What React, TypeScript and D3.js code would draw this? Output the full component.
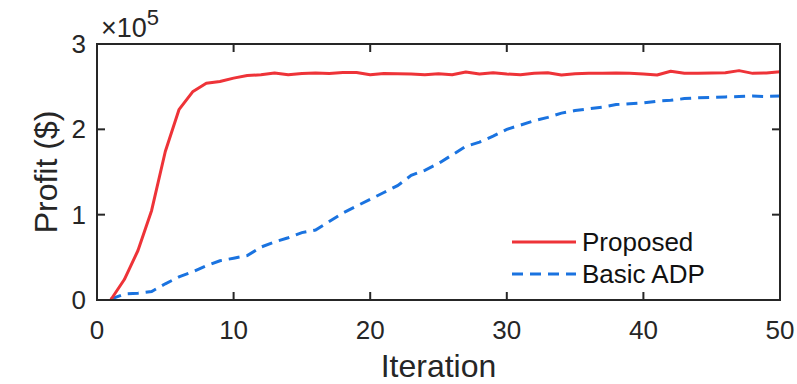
import React, { useEffect, useRef } from 'react';
import * as d3 from 'd3';

// iteration index 1..50
const iterations: number[] = d3.range(1, 51);

// profit values in units of 1e5 $
const proposed: number[] = [
  0.00, 0.24, 0.58, 1.05, 1.74, 2.23, 2.44, 2.54, 2.56, 2.60,
  2.63, 2.64, 2.66, 2.64, 2.655, 2.66, 2.655, 2.665, 2.665, 2.64,
  2.655, 2.65, 2.648, 2.64, 2.652, 2.64, 2.672, 2.648, 2.664, 2.648,
  2.64, 2.656, 2.664, 2.636, 2.652, 2.656, 2.656, 2.66, 2.656, 2.648,
  2.636, 2.68, 2.656, 2.656, 2.66, 2.664, 2.688, 2.656, 2.66, 2.675,
];

const basicADP: number[] = [
  0.01, 0.07, 0.08, 0.10, 0.19, 0.27, 0.33, 0.40, 0.46, 0.49,
  0.52, 0.62, 0.68, 0.73, 0.79, 0.82, 0.92, 1.02, 1.10, 1.18,
  1.26, 1.34, 1.46, 1.52, 1.60, 1.70, 1.80, 1.85, 1.92, 2.00,
  2.05, 2.10, 2.14, 2.19, 2.22, 2.24, 2.26, 2.29, 2.30, 2.31,
  2.33, 2.34, 2.36, 2.37, 2.375, 2.38, 2.385, 2.39, 2.385, 2.39,
];

const xTicks: number[] = [0, 10, 20, 30, 40, 50];
const yTicks: number[] = [0, 1, 2, 3];

const seriesNames: string[] = ['Proposed', 'Basic ADP'];

const App = () => {
  const ref = useRef<SVGSVGElement | null>(null);

  useEffect(() => {
    const svg = d3.select(ref.current);
    svg.selectAll('*').remove();

    const margin = { top: 44, right: 17, bottom: 84, left: 97 },
      width = 797 - margin.left - margin.right,
      height = 384 - margin.top - margin.bottom;

    const axisColor = '#262626';
    const font = '"Liberation Sans", Arial, Helvetica, sans-serif';
    const colors = ['#ee3338', '#1a73e0'];

    const g = svg.append('g')
      .attr('transform', 'translate(' + margin.left + ',' + margin.top + ')');

    const x = d3.scaleLinear().domain([0, 50]).range([0, width]);
    const y = d3.scaleLinear().domain([0, 3]).range([height, 0]);

    // lines
    const line = d3.line<number>()
      .x((d, i) => x(iterations[i]))
      .y(d => y(d));

    g.append('path')
      .datum(basicADP)
      .attr('fill', 'none')
      .attr('stroke', colors[1])
      .attr('stroke-width', 3)
      .attr('stroke-dasharray', '11,7')
      .attr('d', line);

    g.append('path')
      .datum(proposed)
      .attr('fill', 'none')
      .attr('stroke', colors[0])
      .attr('stroke-width', 3)
      .attr('stroke-linejoin', 'round')
      .attr('d', line);

    // box
    g.append('rect')
      .attr('x', 0)
      .attr('y', 0)
      .attr('width', width)
      .attr('height', height)
      .attr('fill', 'none')
      .attr('stroke', axisColor)
      .attr('stroke-width', 2);

    // ticks, pointing inward, on all four sides
    const tickLen = 8;
    xTicks.forEach(t => {
      g.append('line')
        .attr('x1', x(t)).attr('x2', x(t))
        .attr('y1', height).attr('y2', height - tickLen)
        .attr('stroke', axisColor).attr('stroke-width', 2);
      g.append('line')
        .attr('x1', x(t)).attr('x2', x(t))
        .attr('y1', 0).attr('y2', tickLen)
        .attr('stroke', axisColor).attr('stroke-width', 2);
      g.append('text')
        .attr('x', x(t))
        .attr('y', height + 39)
        .attr('text-anchor', 'middle')
        .attr('font-family', font)
        .attr('font-size', 26)
        .attr('fill', axisColor)
        .text(t);
    });

    yTicks.forEach(t => {
      g.append('line')
        .attr('x1', 0).attr('x2', tickLen)
        .attr('y1', y(t)).attr('y2', y(t))
        .attr('stroke', axisColor).attr('stroke-width', 2);
      g.append('line')
        .attr('x1', width).attr('x2', width - tickLen)
        .attr('y1', y(t)).attr('y2', y(t))
        .attr('stroke', axisColor).attr('stroke-width', 2);
      g.append('text')
        .attr('x', -11)
        .attr('y', y(t) + 9)
        .attr('text-anchor', 'end')
        .attr('font-family', font)
        .attr('font-size', 26)
        .attr('fill', axisColor)
        .text(t);
    });

    // exponent label
    const expo = g.append('text')
      .attr('x', 4)
      .attr('y', -7)
      .attr('font-family', font)
      .attr('font-size', 27)
      .attr('fill', axisColor);
    expo.append('tspan').text('\u00d710');
    expo.append('tspan')
      .attr('font-size', 22)
      .attr('dy', -12)
      .text('5');

    // axis labels
    g.append('text')
      .attr('x', width / 2)
      .attr('y', height + 77)
      .attr('text-anchor', 'middle')
      .attr('font-family', font)
      .attr('font-size', 32)
      .attr('fill', axisColor)
      .text('Iteration');

    g.append('text')
      .attr('transform', 'translate(' + (57 - margin.left) + ',' + height / 2 + ') rotate(-90)')
      .attr('text-anchor', 'middle')
      .attr('font-family', font)
      .attr('font-size', 32)
      .attr('fill', axisColor)
      .text('Profit ($)');

    // legend
    const legend = g.selectAll('.legend')
      .data(seriesNames)
      .enter().append('g')
      .attr('class', 'legend')
      .attr('transform', (d, i) => 'translate(' + (512 - margin.left) + ',' + (242 - margin.top + i * 32) + ')');

    legend.append('line')
      .attr('x1', 0).attr('x2', 64)
      .attr('y1', 0).attr('y2', 0)
      .attr('stroke', (d, i) => colors[i])
      .attr('stroke-width', 3)
      .attr('stroke-dasharray', (d, i) => i === 1 ? '11,7' : null);

    legend.append('text')
      .attr('x', 70)
      .attr('y', 9)
      .attr('font-family', font)
      .attr('font-size', 26)
      .attr('fill', '#111')
      .text(d => d);
  }, []);

  return (
    <svg ref={ref} width={797} height={384}
      style={{ position: 'absolute', left: 0, top: 0, background: '#fff' }} />
  );
};

export default App;
